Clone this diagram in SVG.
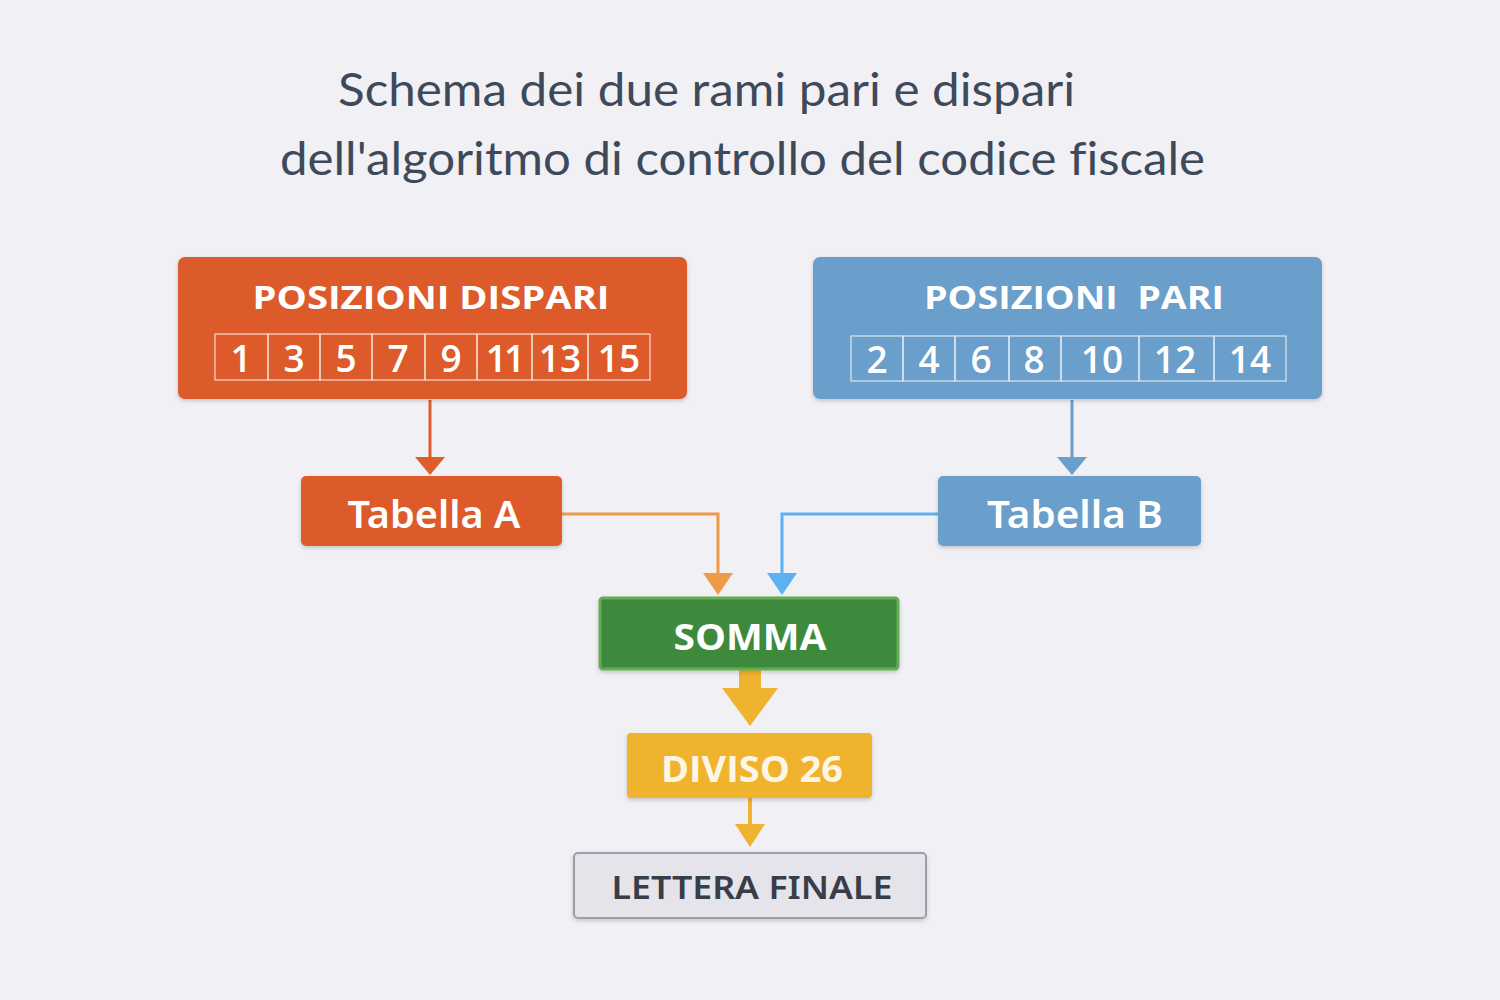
<svg xmlns="http://www.w3.org/2000/svg" width="1500" height="1000" viewBox="0 0 1500 1000">
  <defs>
    <filter id="sh" x="-10%" y="-20%" width="120%" height="150%">
      <feDropShadow dx="0" dy="2" stdDeviation="2" flood-color="#000" flood-opacity="0.18"/>
    </filter>
    <style>
      .title { font-family: "Lato", "Open Sans", sans-serif; font-size: 46px; fill: #3e4a5a; font-variant-ligatures: none; }
      .lbl { font-family: "Open Sans", "Noto Sans", sans-serif; font-weight: 700; fill: #ffffff; text-anchor: middle; }
      .med { font-family: "Noto Sans", "Open Sans", sans-serif; font-weight: 600; fill: #ffffff; text-anchor: middle; }
      .num { font-family: "Open Sans", "Noto Sans", sans-serif; font-weight: 600; font-size: 37px; fill: #ffffff; text-anchor: middle; }
      .cell { fill: none; stroke: #f6dccd; stroke-width: 1.2; }
      .cellb { fill: none; stroke: #dbe8f4; stroke-width: 1.2; }
    </style>
  </defs>
  <rect x="0" y="0" width="1500" height="1000" fill="#f1f0f5"/>

  <g id="title">
    <text class="title" x="338" y="106" textLength="737" lengthAdjust="spacingAndGlyphs">Schema dei due rami pari e dispari</text>
    <text class="title" x="280" y="175" textLength="925" lengthAdjust="spacingAndGlyphs">dell'algoritmo di controllo del codice fiscale</text>
  </g>

  <g id="connectors">
    <line x1="430" y1="400" x2="430" y2="458" stroke="#df5d2c" stroke-width="3"/>
    <path d="M415 457 L445 457 L430 475 Z" fill="#df5d2c"/>
    <line x1="1072" y1="400" x2="1072" y2="458" stroke="#6a9ecb" stroke-width="3"/>
    <path d="M1057 457 L1087 457 L1072 475 Z" fill="#6a9ecb"/>
    <polyline points="562,514 718,514 718,575" fill="none" stroke="#ee9a48" stroke-width="3"/>
    <path d="M703 573 L733 573 L718 595 Z" fill="#ee9a48"/>
    <polyline points="938,514 782,514 782,575" fill="none" stroke="#5cb2f0" stroke-width="3"/>
    <path d="M767 573 L797 573 L782 595 Z" fill="#5cb2f0"/>
    <rect x="739" y="669" width="22" height="21" fill="#f0b32f"/>
    <path d="M722 688 L778 688 L750 726 Z" fill="#f0b32f"/>
    <line x1="750" y1="798" x2="750" y2="826" stroke="#f0b32f" stroke-width="4"/>
    <path d="M735 824 L765 824 L750 847 Z" fill="#f0b32f"/>
  </g>

  <g id="node-dispari">
    <rect x="178" y="257" width="509" height="142" rx="7" fill="#dd5a2b" filter="url(#sh)"/>
    <text class="lbl" x="431" y="309" font-size="33" textLength="357" lengthAdjust="spacingAndGlyphs">POSIZIONI DISPARI</text>
    <rect class="cell" x="215" y="334" width="53" height="46"/>
    <rect class="cell" x="268" y="334" width="52" height="46"/>
    <rect class="cell" x="320" y="334" width="52" height="46"/>
    <rect class="cell" x="372" y="334" width="53" height="46"/>
    <rect class="cell" x="425" y="334" width="52" height="46"/>
    <rect class="cell" x="477" y="334" width="55" height="46"/>
    <rect class="cell" x="532" y="334" width="56" height="46"/>
    <rect class="cell" x="588" y="334" width="62" height="46"/>
    <text class="num" x="241" y="372">1</text>
    <text class="num" x="294" y="372">3</text>
    <text class="num" x="346" y="372">5</text>
    <text class="num" x="398" y="372">7</text>
    <text class="num" x="451" y="372">9</text>
    <text class="num" x="504" y="372" letter-spacing="-3">11</text>
    <text class="num" x="560" y="372">13</text>
    <text class="num" x="619" y="372">15</text>
  </g>

  <g id="node-pari">
    <rect x="813" y="257" width="509" height="142" rx="7" fill="#6a9ecb" filter="url(#sh)"/>
    <text class="lbl" x="1074" y="309" font-size="33" textLength="300" lengthAdjust="spacingAndGlyphs" xml:space="preserve">POSIZIONI  PARI</text>
    <rect class="cellb" x="851" y="336" width="52" height="45"/>
    <rect class="cellb" x="903" y="336" width="52" height="45"/>
    <rect class="cellb" x="955" y="336" width="54" height="45"/>
    <rect class="cellb" x="1009" y="336" width="52" height="45"/>
    <rect class="cellb" x="1061" y="336" width="78" height="45"/>
    <rect class="cellb" x="1139" y="336" width="75" height="45"/>
    <rect class="cellb" x="1214" y="336" width="72" height="45"/>
    <text class="num" x="877" y="373">2</text>
    <text class="num" x="929" y="373">4</text>
    <text class="num" x="981" y="373">6</text>
    <text class="num" x="1034" y="373">8</text>
    <text class="num" x="1102" y="373">10</text>
    <text class="num" x="1175" y="373">12</text>
    <text class="num" x="1250" y="373">14</text>
  </g>

  <g id="node-tabA">
    <rect x="301" y="476" width="261" height="70" rx="5" fill="#dd5a2b" filter="url(#sh)"/>
    <text class="med" x="434" y="528" font-size="38" textLength="173" lengthAdjust="spacingAndGlyphs">Tabella A</text>
  </g>

  <g id="node-tabB">
    <rect x="938" y="476" width="263" height="70" rx="5" fill="#6a9ecb" filter="url(#sh)"/>
    <text class="med" x="1075" y="528" font-size="38" textLength="176" lengthAdjust="spacingAndGlyphs">Tabella B</text>
  </g>

  <g id="node-somma">
    <rect x="600" y="598" width="298" height="71" rx="3" fill="#3e8a3c" stroke="#64ad55" stroke-width="3" filter="url(#sh)"/>
    <text class="lbl" x="750" y="650" font-size="36" textLength="153" lengthAdjust="spacingAndGlyphs">SOMMA</text>
  </g>

  <g id="node-diviso">
    <rect x="627" y="733" width="245" height="65" rx="4" fill="#f0b32f" filter="url(#sh)"/>
    <text class="lbl" x="752" y="782" font-size="36" style="fill:#fdf6e6" textLength="182" lengthAdjust="spacingAndGlyphs">DIVISO 26</text>
  </g>

  <g id="node-lettera">
    <rect x="574" y="853" width="352" height="65" rx="4" fill="#e4e4ea" stroke="#9c9eab" stroke-width="2" filter="url(#sh)"/>
    <text class="med" x="752" y="899" font-size="33" font-weight="500" style="fill:#383d48" textLength="281" lengthAdjust="spacingAndGlyphs">LETTERA FINALE</text>
  </g>
</svg>
